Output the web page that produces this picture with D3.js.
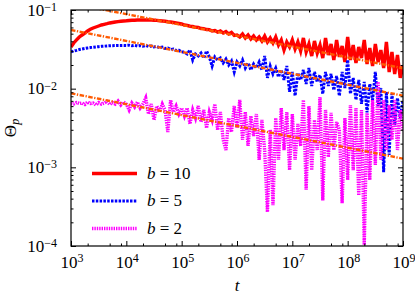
<!DOCTYPE html>
<html>
<head>
<meta charset="utf-8">
<script src="https://cdn.jsdelivr.net/npm/d3@7"></script>
<style>
  body { margin: 0; background: #fff; }
  text { font-family: "Liberation Serif", "DejaVu Serif", serif; fill: #000; }
</style>
</head>
<body>
<script>
var width = 415;
var height = 294;
var plotLeft = 71, plotRight = 403, plotTop = 10, plotBottom = 246;

// sample times: exponents of t, one point every 0.05 decade from 10^3 to 10^9
var tExp = d3.range(0, 121).map(function (i) { return 3 + i * 0.05; });

// Theta_p, one value per sample time
var theta10 = [
  0.0339, 0.0381, 0.0416, 0.0454, 0.0481, 0.0510, 0.0541, 0.0568, 0.0590, 0.0608,
  0.0626, 0.0645, 0.0658, 0.0670, 0.0684, 0.0694, 0.0704, 0.0712, 0.0719, 0.0725,
  0.0729, 0.0735, 0.0740, 0.0742, 0.0746, 0.0746, 0.0746, 0.0746, 0.0746, 0.0746,
  0.0742, 0.0737, 0.0731, 0.0725, 0.0719, 0.0710, 0.0704, 0.0694, 0.0684, 0.0674,
  0.0664, 0.0645, 0.0639, 0.0622, 0.0617, 0.0603, 0.0601, 0.0582, 0.0580, 0.0565,
  0.0563, 0.0541, 0.0549, 0.0525, 0.0541, 0.0510, 0.0533, 0.0495, 0.0518, 0.0474,
  0.0481, 0.0454, 0.0495, 0.0441, 0.0481, 0.0428, 0.0467, 0.0416, 0.0454, 0.0404,
  0.0467, 0.0392, 0.0441, 0.0381, 0.0454, 0.0359, 0.0416, 0.0310, 0.0392, 0.0339,
  0.0416, 0.0319, 0.0392, 0.0301, 0.0441, 0.0292, 0.0370, 0.0260, 0.0404, 0.0284,
  0.0359, 0.0245, 0.0441, 0.0268, 0.0370, 0.0231, 0.0416, 0.0253, 0.0349, 0.0218,
  0.0454, 0.0231, 0.0359, 0.0212, 0.0339, 0.0245, 0.0416, 0.0206, 0.0329, 0.0194,
  0.0370, 0.0218, 0.0310, 0.0183, 0.0392, 0.0163, 0.0292, 0.0154, 0.0268, 0.0137,
  0.0194
];
var theta5 = [
  0.0295, 0.0301, 0.0307, 0.0314, 0.0319, 0.0324, 0.0329, 0.0333, 0.0336, 0.0339,
  0.0342, 0.0345, 0.0347, 0.0349, 0.0351, 0.0352, 0.0353, 0.0354, 0.0354, 0.0355,
  0.0354, 0.0357, 0.0351, 0.0356, 0.0349, 0.0354, 0.0347, 0.0353, 0.0344, 0.0349,
  0.0339, 0.0344, 0.0331, 0.0337, 0.0324, 0.0329, 0.0315, 0.0319, 0.0306, 0.0307,
  0.0292, 0.0292, 0.0276, 0.0310, 0.0231, 0.0276, 0.0260, 0.0284, 0.0245, 0.0301,
  0.0253, 0.0194, 0.0253, 0.0231, 0.0245, 0.0212, 0.0238, 0.0200, 0.0225, 0.0163,
  0.0218, 0.0194, 0.0231, 0.0183, 0.0212, 0.0173, 0.0206, 0.0183, 0.0218, 0.0173,
  0.0260, 0.0137, 0.0194, 0.0154, 0.0183, 0.0141, 0.0173, 0.0129, 0.0194, 0.0091,
  0.0163, 0.0081, 0.0158, 0.0129, 0.0173, 0.0115, 0.0183, 0.0108, 0.0163, 0.0122,
  0.0149, 0.0086, 0.0163, 0.0108, 0.0154, 0.0096, 0.0145, 0.0081, 0.0163, 0.0102,
  0.0231, 0.0086, 0.0137, 0.0072, 0.0129, 0.0064, 0.0122, 0.0050, 0.0115, 0.0072,
  0.0163, 0.0060, 0.0102, 0.00087, 0.0091, 0.00144, 0.0086, 0.00345, 0.0076, 0.0042,
  0.0072
];
var theta2 = [
  0.00648, 0.00638, 0.00667, 0.00648, 0.00657, 0.00629, 0.00677, 0.00648, 0.00657, 0.00620,
  0.00667, 0.00638, 0.00657, 0.00687, 0.00629, 0.00667, 0.00638, 0.00697, 0.00620, 0.00677,
  0.00638, 0.00536, 0.00657, 0.00585, 0.00677, 0.00568, 0.00638, 0.00761, 0.00476, 0.00638,
  0.0040, 0.00602, 0.00505, 0.00638, 0.00536, 0.00281, 0.00718, 0.00505, 0.00602, 0.00476,
  0.00568, 0.00449, 0.00568, 0.00356, 0.00536, 0.00424, 0.00602, 0.00377, 0.00536, 0.00316,
  0.00505, 0.0040, 0.00638, 0.00298, 0.00505, 0.00223, 0.00166, 0.00424, 0.00281, 0.00602,
  0.00316, 0.00718, 0.00223, 0.00505, 0.00187, 0.00449, 0.0025, 0.00476, 0.00124, 0.0040,
  0.00166, 0.00027, 0.0030, 0.00033, 0.00424, 0.00124, 0.00568, 0.00166, 0.00505, 0.00092,
  0.00476, 0.00124, 0.00356, 0.00187, 0.00718, 0.00052, 0.00602, 0.00092, 0.0040, 0.00166,
  0.00783, 0.00038, 0.00536, 0.00135, 0.00491, 0.00166, 0.00377, 0.0030, 0.00035, 0.00424,
  0.00069, 0.0062, 0.00092, 0.00568, 0.00044, 0.00536, 0.000103, 0.00491, 0.00069, 0.00718,
  0.00107, 0.0122, 0.00124, 0.00718, 0.00166, 0.0062, 0.00223, 0.00718, 0.00166, 0.00536,
  0.0030
];

// power-law fits (orange dash-dot), end points at t = 10^3 and 10^9
var fitT = [1e3, 1e9];
var fit10 = [0.1216, 0.0182];
var fit5 = [0.0557, 0.00815];
var fit2 = [0.00873, 0.00129];

var legendLabels = ["10", "5", "2"];
var xMajor = [1e3, 1e4, 1e5, 1e6, 1e7, 1e8, 1e9];
var xExps = ["3", "4", "5", "6", "7", "8", "9"];
var yMajor = [1e-4, 1e-3, 1e-2, 1e-1];
var yExps = ["\u22124", "\u22123", "\u22122", "\u22121"];

var x = d3.scaleLog().domain([1e3, 1e9]).range([plotLeft, plotRight]);
var y = d3.scaleLog().domain([1e-4, 1e-1]).range([plotBottom, plotTop]);

var xMinor = [];
xMajor.slice(0, -1).forEach(function (d) { [2, 5, 8].forEach(function (k) { xMinor.push(d * k); }); });
var yMinor = [];
yMajor.slice(0, -1).forEach(function (d) { d3.range(2, 10).forEach(function (k) { yMinor.push(d * k); }); });

var svg = d3.select("body").append("svg")
  .attr("width", width).attr("height", height);

svg.append("clipPath").attr("id", "plot")
  .append("rect").attr("x", plotLeft).attr("y", plotTop)
  .attr("width", plotRight - plotLeft).attr("height", plotBottom - plotTop);

var styles = [
  { data: theta10, color: "#ff0000", width: 3.4, dash: null },
  { data: theta5, color: "#0000ff", width: 3, dash: "2.5,1.3" },
  { data: theta2, color: "#ff00ff", width: 3.4, dash: "1.4,1" }
];

var line = d3.line()
  .x(function (d, i) { return x(Math.pow(10, tExp[i])); })
  .y(function (d) { return y(d); });

var plot = svg.append("g").attr("clip-path", "url(#plot)");

styles.forEach(function (s) {
  plot.append("path").datum(s.data)
    .attr("d", line)
    .style("fill", "none")
    .style("stroke", s.color)
    .style("stroke-width", s.width)
    .style("stroke-dasharray", s.dash)
    .style("stroke-linejoin", "miter");
});

var fitLine = d3.line()
  .x(function (d, i) { return x(fitT[i]); })
  .y(function (d) { return y(d); });

[fit10, fit5, fit2].forEach(function (f) {
  plot.append("path").datum(f)
    .attr("d", fitLine)
    .style("fill", "none")
    .style("stroke", "#ff5a00")
    .style("stroke-width", 2.4)
    .style("stroke-dasharray", "4.5,1.5,1.3,1.5");
});

// ticks on all four sides, pointing inwards
function ticks(axis, vals, size, tr) {
  var g = svg.append("g").attr("transform", tr)
    .call(axis.tickValues(vals).tickSize(size).tickFormat(""));
  g.select(".domain").remove();
  g.selectAll("line").style("stroke", "#000").style("stroke-width", 1);
}
ticks(d3.axisBottom(x), xMajor, -5, "translate(0," + plotBottom + ")");
ticks(d3.axisBottom(x), xMinor, -2.5, "translate(0," + plotBottom + ")");
ticks(d3.axisTop(x), xMajor, -5, "translate(0," + plotTop + ")");
ticks(d3.axisTop(x), xMinor, -2.5, "translate(0," + plotTop + ")");
ticks(d3.axisLeft(y), yMajor, -5, "translate(" + plotLeft + ",0)");
ticks(d3.axisLeft(y), yMinor, -2.5, "translate(" + plotLeft + ",0)");
ticks(d3.axisRight(y), yMajor, -5, "translate(" + plotRight + ",0)");
ticks(d3.axisRight(y), yMinor, -2.5, "translate(" + plotRight + ",0)");

svg.append("rect")
  .attr("x", plotLeft).attr("y", plotTop)
  .attr("width", plotRight - plotLeft).attr("height", plotBottom - plotTop)
  .style("fill", "none").style("stroke", "#000").style("stroke-width", 1.2);

// tick labels as 10 with superscript exponent
xMajor.forEach(function (d, i) {
  var t = svg.append("text").attr("x", x(d) + 1).attr("y", 268)
    .attr("text-anchor", "middle").style("font-size", "17px");
  t.append("tspan").text("10");
  t.append("tspan").attr("dy", -6).style("font-size", "12px").text(xExps[i]);
});
yMajor.forEach(function (d, i) {
  var t = svg.append("text").attr("x", 57).attr("y", y(d) + 5.5)
    .attr("text-anchor", "end").style("font-size", "17px");
  t.append("tspan").text("10");
  t.append("tspan").attr("dy", -4.5).style("font-size", "12px").text(yExps[i]);
});

// axis titles
svg.append("text").attr("x", 237).attr("y", 291)
  .attr("text-anchor", "middle").style("font-size", "17px").style("font-style", "italic")
  .text("t");
var yt = svg.append("text").attr("transform", "translate(16,128) rotate(-90)")
  .attr("text-anchor", "middle").style("font-size", "17px");
yt.append("tspan").text("\u0398");
yt.append("tspan").attr("dy", 3).style("font-size", "12px").style("font-style", "italic").text("p");

// legend
var legendY = [173.5, 201, 228.5];
styles.forEach(function (s, i) {
  svg.append("line")
    .attr("x1", 92).attr("x2", 137).attr("y1", legendY[i]).attr("y2", legendY[i])
    .style("stroke", s.color).style("stroke-width", s.width)
    .style("stroke-dasharray", s.dash);
  var t = svg.append("text").attr("x", 147).attr("y", legendY[i] + 5)
    .style("font-size", "17px");
  t.append("tspan").style("font-style", "italic").text("b");
  t.append("tspan").text(" = " + legendLabels[i]);
});
</script>
</body>
</html>
